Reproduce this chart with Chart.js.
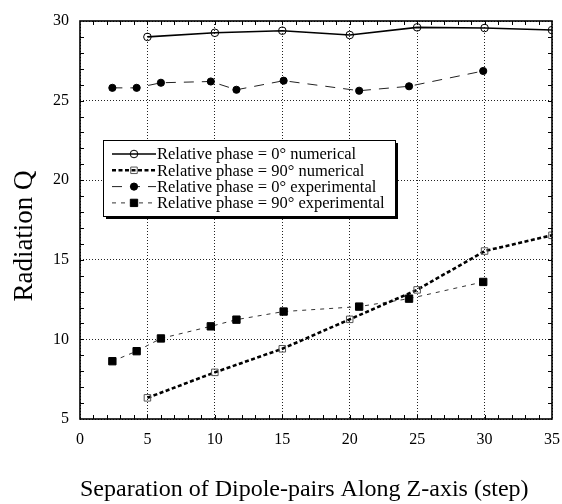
<!DOCTYPE html>
<html>
<head>
<meta charset="utf-8">
<script src="https://cdn.jsdelivr.net/npm/chart.js@4.4.1/dist/chart.umd.min.js"></script>
<style>
  html, body { margin: 0; padding: 0; background: #fff; overflow: hidden; }
  #wrap { width: 562px; height: 504px; }
  canvas { display: block; }
</style>
</head>
<body>
<div id="wrap"><canvas id="qChart" width="562" height="504"></canvas></div>
<script>
// Radiation Q vs separation of dipole pairs
const xNumerical = [5, 10, 15, 20, 25, 30, 35];
const q0Numerical = [29.0, 29.26, 29.39, 29.12, 29.6, 29.56, 29.43];
const q90Numerical = [6.33, 7.93, 9.41, 11.26, 13.11, 15.55, 16.54];

const xExperimental = [2.4, 4.2, 6.0, 9.7, 11.6, 15.1, 20.7, 24.4, 29.9];
const q0Experimental = [25.8, 25.8, 26.12, 26.2, 25.68, 26.25, 25.62, 25.9, 26.86];
const q90Experimental = [8.63, 9.26, 10.06, 10.82, 11.24, 11.75, 12.06, 12.56, 13.61];

const seriesLabels = [
    'Relative phase = 0\u00b0 numerical',
    'Relative phase = 90\u00b0 numerical',
    'Relative phase = 0\u00b0 experimental',
    'Relative phase = 90\u00b0 experimental'
];

const xTitle = 'Separation of Dipole-pairs Along Z-axis (step)';
const yTitle = 'Radiation Q';

const serif = "'Liberation Serif', 'Times New Roman', serif";

const toPoints = (xs, ys) => xs.map((x, i) => ({ x: x, y: ys[i] }));

// frame, inward minor ticks, y title and boxed legend
const decorations = {
    id: 'decorations',
    afterDatasetsDraw(chart) {
        const { ctx, chartArea: a, scales } = chart;
        ctx.save();
        ctx.strokeStyle = '#000';
        ctx.lineWidth = 1;
        ctx.setLineDash([]);
        // minor ticks every unit
        ctx.beginPath();
        for (let v = 1; v < 35; v++) {
            const px = Math.round(scales.x.getPixelForValue(v)) + 0.5;
            ctx.moveTo(px, a.bottom); ctx.lineTo(px, a.bottom - 4);
            ctx.moveTo(px, a.top); ctx.lineTo(px, a.top + 4);
        }
        for (let v = 6; v < 30; v++) {
            const py = Math.round(scales.y.getPixelForValue(v)) + 0.5;
            ctx.moveTo(a.left, py); ctx.lineTo(a.left + 4, py);
            ctx.moveTo(a.right, py); ctx.lineTo(a.right - 4, py);
        }
        ctx.stroke();
        ctx.lineWidth = 1.6;
        ctx.strokeRect(a.left, a.top, a.right - a.left, a.bottom - a.top);

        // y axis title
        ctx.save();
        ctx.translate(25, 236);
        ctx.rotate(-Math.PI / 2);
        ctx.font = '27px ' + serif;
        ctx.fillStyle = '#000';
        ctx.textAlign = 'center';
        ctx.textBaseline = 'middle';
        ctx.fillText(yTitle, 0, 0);
        ctx.restore();

        // legend box
        const bx = 103, by = 140, bw = 292, bh = 76;
        ctx.fillStyle = '#000';
        ctx.fillRect(bx + 3, by + 3, bw, bh);
        ctx.fillStyle = '#fff';
        ctx.fillRect(bx, by, bw, bh);
        ctx.lineWidth = 1;
        ctx.strokeRect(bx + 0.5, by + 0.5, bw, bh);

        ctx.font = '16.5px ' + serif;
        ctx.textBaseline = 'middle';
        ctx.textAlign = 'left';
        chart.data.datasets.forEach((ds, i) => {
            const y = by + 14 + i * 16.3;
            ctx.strokeStyle = ds.borderColor;
            ctx.lineWidth = ds.borderWidth;
            ctx.setLineDash(ds.borderDash || []);
            ctx.beginPath();
            ctx.moveTo(112, y); ctx.lineTo(156, y);
            ctx.stroke();
            ctx.setLineDash([]);
            ctx.lineWidth = 1;
            ctx.strokeStyle = ds.pointBorderColor;
            ctx.fillStyle = ds.pointBackgroundColor;
            const cx = 134, r = ds.pointRadius;
            ctx.beginPath();
            if (ds.pointStyle === 'rect') {
                const s = Math.SQRT1_2 * r;
                ctx.rect(cx - s, y - s, 2 * s, 2 * s);
            } else {
                ctx.arc(cx, y, r, 0, Math.PI * 2);
            }
            ctx.fill();
            ctx.stroke();
            ctx.fillStyle = '#000';
            ctx.fillText(ds.label, 157, y + 1);
        });
        ctx.restore();
    }
};

const gridStyle = (ctx) => ctx.tick && ctx.tick.value % 5 === 0 ? '#222' : 'rgba(0,0,0,0)';

new Chart(document.getElementById('qChart'), {
    type: 'scatter',
    data: {
        datasets: [{
            label: seriesLabels[0],
            data: toPoints(xNumerical, q0Numerical),
            showLine: true,
            borderColor: '#000',
            borderWidth: 1.6,
            pointStyle: 'circle',
            pointRadius: 3.8,
            pointBorderColor: '#000',
            pointBorderWidth: 1,
            pointBackgroundColor: 'rgba(0,0,0,0)'
        }, {
            label: seriesLabels[1],
            data: toPoints(xNumerical, q90Numerical),
            showLine: true,
            borderColor: '#000',
            borderWidth: 2.6,
            borderDash: [4, 2.5],
            pointStyle: 'rect',
            pointRadius: 4.6,
            pointBorderColor: '#555',
            pointBorderWidth: 1,
            pointBackgroundColor: 'rgba(0,0,0,0)'
        }, {
            label: seriesLabels[2],
            data: toPoints(xExperimental, q0Experimental),
            showLine: true,
            borderColor: '#222',
            borderWidth: 1,
            borderDash: [10, 8],
            pointStyle: 'circle',
            pointRadius: 3.6,
            pointBorderColor: '#000',
            pointBorderWidth: 1,
            pointBackgroundColor: '#000'
        }, {
            label: seriesLabels[3],
            data: toPoints(xExperimental, q90Experimental),
            showLine: true,
            borderColor: '#333',
            borderWidth: 1,
            borderDash: [4, 5],
            pointStyle: 'rect',
            pointRadius: 5.2,
            pointBorderColor: '#000',
            pointBorderWidth: 1,
            pointBackgroundColor: '#000'
        }]
    },
    options: {
        responsive: false,
        animation: false,
        layout: { padding: { top: 21, right: 10, left: 0, bottom: 0 } },
        scales: {
            x: {
                type: 'linear',
                min: 0,
                max: 35,
                afterFit: (scale) => { scale.height = 85; scale.paddingLeft = 0; scale.paddingRight = 0; },
                ticks: { stepSize: 5, color: '#000', padding: 11, font: { family: serif, size: 16 } },
                grid: { color: gridStyle, lineWidth: 1, drawTicks: false },
                border: { display: false, dash: [1, 2] },
                title: {
                    display: true,
                    text: xTitle,
                    align: 'start',
                    color: '#000',
                    font: { family: serif, size: 24 },
                    padding: { top: 0, bottom: 0 }
                }
            },
            y: {
                min: 5,
                max: 30,
                afterFit: (scale) => { scale.width = 80; scale.paddingTop = 0; scale.paddingBottom = 0; },
                ticks: { stepSize: 5, color: '#000', padding: 11, font: { family: serif, size: 16 } },
                grid: { color: gridStyle, lineWidth: 1, drawTicks: false },
                border: { display: false, dash: [1, 2] },
                title: { display: false, text: yTitle }
            }
        },
        plugins: {
            legend: { display: false },
            tooltip: { enabled: false }
        }
    },
    plugins: [decorations]
});
</script>
</body>
</html>
